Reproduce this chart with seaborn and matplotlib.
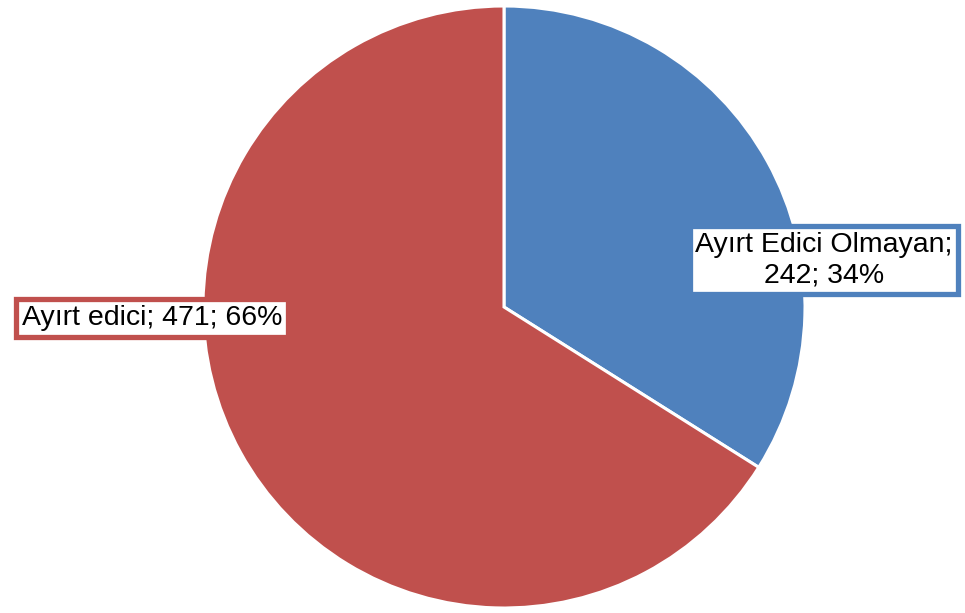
import matplotlib
matplotlib.use("Agg")
import matplotlib.pyplot as plt
import seaborn as sns

# Chart data
labels = ["Ayırt Edici Olmayan", "Ayırt edici"]
counts = [242, 471]
percents = [34, 66]
colors = ["#4F81BD", "#C0504D"]

sns.set_style("white")
plt.rcParams["font.family"] = ["Liberation Sans", "DejaVu Sans"]

fig = plt.figure(figsize=(9.65, 6.13), dpi=100)
ax = fig.add_axes([0, 0, 1, 1])

ax.pie(counts, colors=colors, startangle=90, counterclock=False,
       center=(504, 306), radius=301, frame=True,
       wedgeprops=dict(edgecolor="white", linewidth=2.2))
ax.set_xlim(0, 965)
ax.set_ylim(0, 613)
ax.axis("off")

# Data labels
ax.text(824, 353, f"{labels[0]};\n{counts[0]}; {percents[0]}%",
        ha="center", va="center", fontsize=20.5, linespacing=1.2, color="black",
        bbox=dict(boxstyle="square,pad=0.2", facecolor="white",
                  edgecolor=colors[0], linewidth=3.8))
ax.text(152, 295, f"{labels[1]}; {counts[1]}; {percents[1]}%",
        ha="center", va="center", fontsize=20.5, color="black",
        bbox=dict(boxstyle="square,pad=0.2", facecolor="white",
                  edgecolor=colors[1], linewidth=3.8))

fig.savefig("out.png", dpi=100, facecolor="white")
